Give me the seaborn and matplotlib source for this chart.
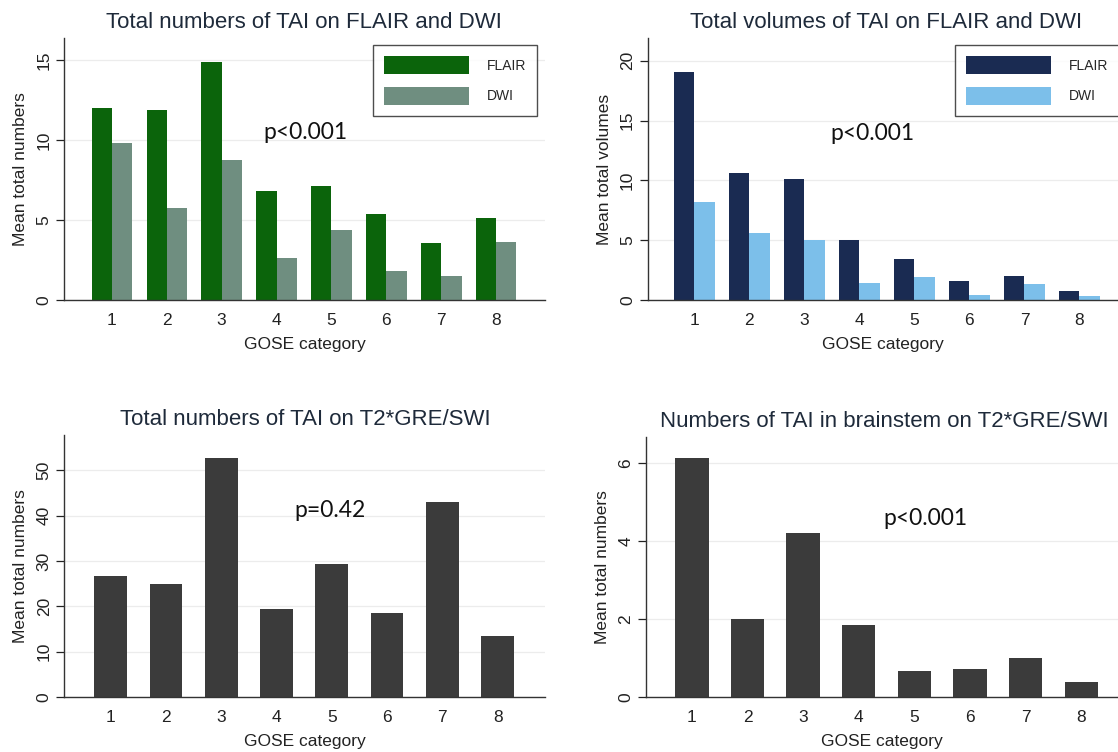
import matplotlib
matplotlib.use("Agg")
from matplotlib import pyplot as plt
import pandas as pd
import seaborn as sns

sns.set_style("white")
plt.rcParams['font.family'] = ['Liberation Sans', 'DejaVu Sans']

gose = ['1', '2', '3', '4', '5', '6', '7', '8']

# mean total numbers of TAI on FLAIR / DWI
num_flair = [12.0, 11.9, 14.9, 6.85, 7.15, 5.4, 3.55, 5.15]
num_dwi = [9.85, 5.75, 8.75, 2.65, 4.4, 1.8, 1.5, 3.65]

# mean total volumes of TAI on FLAIR / DWI
vol_flair = [19.1, 10.65, 10.1, 5.0, 3.4, 1.6, 2.0, 0.75]
vol_dwi = [8.2, 5.6, 5.05, 1.45, 1.9, 0.45, 1.35, 0.33]

# T2*GRE/SWI numbers, total and brainstem
swi_total = [26.8, 25.0, 52.8, 19.5, 29.4, 18.6, 43.1, 13.5]
swi_brainstem = [6.13, 2.0, 4.21, 1.86, 0.66, 0.73, 1.0, 0.38]

p_values = ['p<0.001', 'p<0.001', 'p=0.42', 'p<0.001']

df_num = pd.DataFrame({'GOSE': gose * 2, 'value': num_flair + num_dwi,
                       'Sequence': ['FLAIR'] * 8 + ['DWI'] * 8})
df_vol = pd.DataFrame({'GOSE': gose * 2, 'value': vol_flair + vol_dwi,
                       'Sequence': ['FLAIR'] * 8 + ['DWI'] * 8})
df_swi = pd.DataFrame({'GOSE': gose, 'total': swi_total, 'brainstem': swi_brainstem})

fig = plt.figure(figsize=(11.18, 7.52), dpi=100)
ax1 = fig.add_axes([0.0575, 0.601, 0.4296, 0.3484])
ax2 = fig.add_axes([0.5792, 0.601, 0.4208, 0.3484])
ax3 = fig.add_axes([0.0575, 0.0731, 0.4296, 0.3484])
ax4 = fig.add_axes([0.5776, 0.0731, 0.4224, 0.3457])

sns.barplot(data=df_num, x='GOSE', y='value', hue='Sequence', order=gose,
            palette=['#0b640b', '#6f8e80'], width=0.735, linewidth=0, saturation=1, ax=ax1)
sns.barplot(data=df_vol, x='GOSE', y='value', hue='Sequence', order=gose,
            palette=['#1a2b52', '#7cbfea'], width=0.75, linewidth=0, saturation=1, ax=ax2)
sns.barplot(data=df_swi, x='GOSE', y='total', order=gose, color='#3b3b3b',
            width=0.59, linewidth=0, saturation=1, ax=ax3)
sns.barplot(data=df_swi, x='GOSE', y='brainstem', order=gose, color='#3b3b3b',
            width=0.6, linewidth=0, saturation=1, ax=ax4)

titles = ['Total numbers of TAI on FLAIR and DWI', 'Total volumes of TAI on FLAIR and DWI',
          'Total numbers of TAI on T2*GRE/SWI', 'Numbers of TAI in brainstem on T2*GRE/SWI']
title_x = [0.50, 0.508, 0.501, 0.505]
ylabels = ['Mean total numbers', 'Mean total volumes', 'Mean total numbers', 'Mean total numbers']
yticks = [[0, 5, 10, 15], [0, 5, 10, 15, 20], [0, 10, 20, 30, 40, 50], [0, 2, 4, 6]]
ylims = [16.4, 21.9, 57.8, 6.67]
xlims = [(-0.865, 7.88), (-0.85, 7.70), (-0.84, 7.85), (-0.83, 7.66)]
p_pos = [(3.52, 10.5), (3.24, 13.9), (3.97, 41.2), (4.2, 4.58)]

for i, ax in enumerate([ax1, ax2, ax3, ax4]):
    ax.set_title(titles[i], fontsize=16, color='#1e2a3a', x=title_x[i], pad=7)
    ax.set_xlabel('GOSE category', fontsize=12.5, color='#222222', labelpad=7)
    ax.set_ylabel(ylabels[i], fontsize=12.5, color='#222222', labelpad=6)
    ax.set_yticks(yticks[i])
    ax.set_ylim(0, ylims[i])
    ax.set_xlim(*xlims[i])
    ax.yaxis.grid(True, color='#ececec', linewidth=0.9)
    ax.set_axisbelow(True)
    sns.despine(ax=ax)
    for s in ['left', 'bottom']:
        ax.spines[s].set_color('#333333')
        ax.spines[s].set_linewidth(1.0)
    ax.tick_params(axis='both', labelsize=12.5, colors='#222222', width=0.9, direction='out')
    ax.tick_params(axis='x', length=0, pad=9)
    ax.tick_params(axis='y', length=5.5, left=True, labelrotation=90)
    for lab in ax.get_yticklabels():
        lab.set_va('center')
    ax.text(p_pos[i][0], p_pos[i][1], p_values[i], family='Lato', fontsize=16.5,
            ha='center', va='center', color='#111111')

for ax, anchor in [(ax1, (0.643, 0.973)), (ax2, (0.654, 0.973))]:
    handles, labels = ax.get_legend_handles_labels()
    leg = ax.legend(handles, labels, loc='upper left', bbox_to_anchor=anchor,
                    fontsize=10, handlelength=6.1, handleheight=1.58, labelspacing=0.94,
                    handletextpad=1.3, borderpad=0.8, borderaxespad=0,
                    fancybox=False, frameon=True, edgecolor='#222222')
    leg.get_frame().set_linewidth(1.0)

fig.savefig('out.png', dpi=100)
